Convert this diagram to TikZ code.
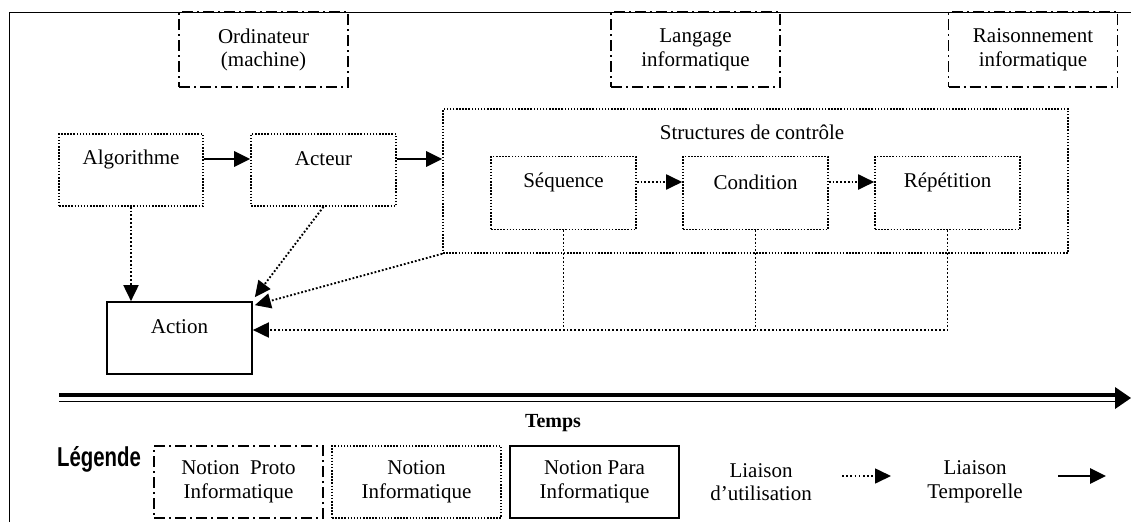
\documentclass[tikz,border=0pt]{standalone}
\usepackage{fontspec}
\setmainfont{Liberation Serif}
\newfontfamily\legfont{Liberation Sans}
\usetikzlibrary{arrows.meta,calc}
\begin{document}
\begin{tikzpicture}[x=1pt,y=-1pt,
  txt/.style={font=\fontsize{21}{23.5}\selectfont, align=center, inner sep=0pt},
  dotb/.style={draw, line width=1.6pt, dash pattern=on 1.5pt off 1.6pt, inner sep=0pt},
  ddot/.style={draw, line width=1.7pt, dash pattern=on 11pt off 4pt on 2pt off 4pt, inner sep=0pt},
  solb/.style={draw, line width=1.7pt, inner sep=0pt},
  bx/.style={minimum width=145pt, minimum height=72pt},
  tbx/.style={minimum width=169pt, minimum height=75pt},
  usearrow/.style={line width=1.9pt, dash pattern=on 1.8pt off 2pt, -{Triangle[length=16pt,width=15pt]}},
  usebus/.style={line width=1.9pt, dash pattern=on 1.8pt off 2pt},
  timearrow/.style={line width=2.8pt, -{Triangle[length=16pt,width=15pt]}}
]
\useasboundingbox (0,0) rectangle (1131,522);
% frame
\draw[line width=1pt] (9,522) -- (9,12) -- (1131,12);

% top proto notions
\node[ddot, tbx] (ord) at (263.5,49.5) {};
\node[txt] (ordt) at (263.5,50) {Ordinateur\\(machine)};
\node[ddot, tbx] (lang) at (695.5,49.5) {};
\node[txt] (langt) at (695.5,50) {Langage\\informatique};
\node[ddot, tbx] (rais) at (1033,49.5) {};
\node[txt] (raist) at (1033,50) {Raisonnement\\informatique};

% main row
\node[dotb, bx, minimum width=144pt] (alg) at (131,170) {};
\node[txt] (algt) at (131,159) {Algorithme};
\node[dotb, bx] (act) at (323.5,170) {};
\node[txt] (actt) at (323.5,159) {Acteur};
\node[dotb, minimum width=625pt, minimum height=144pt] (str) at (755.5,181) {};
\node[txt] (strt) at (752,132) {Structures de contr\^ole};
\node[dotb, bx, minimum height=73pt] (seq) at (563.5,193) {};
\node[txt] (seqt) at (563.5,182) {S\'equence};
\node[dotb, bx, minimum height=73pt] (cond) at (755.5,193) {};
\node[txt] (condt) at (755.5,182) {Condition};
\node[dotb, bx, minimum height=73pt] (rep) at (947.5,193) {};
\node[txt] (rept) at (947.5,182) {R\'ep\'etition};
\node[solb, bx] (action) at (179.5,338) {};
\node[txt] (actiont) at (179.5,327) {Action};

% temporal links
\draw[timearrow] (alg.east |- algt) -- (act.west |- algt);
\draw[timearrow] (act.east |- actt) -- (str.west |- actt);
% use links
\draw[usearrow] (seq.east |- seqt) -- (cond.west |- seqt);
\draw[usearrow] (cond.east |- condt) -- (rep.west |- condt);
\draw[usearrow] (alg.south) -- (alg.south |- action.north);
\draw[usearrow] (act.south) -- ($(action.north east)+(2,-4)$);
\draw[usearrow] (str.south west) -- ($(action.north east)+(2,4)$);
\coordinate (bus) at (0,330);
\draw[usebus] (seq.south) -- (seq.south |- bus);
\draw[usebus] (cond.south) -- (cond.south |- bus);
\draw[usearrow] (rep.south) -- (rep.south |- bus) -- (action.east |- bus);

% time axis
\coordinate (t0) at (59,398);
\coordinate (t1) at (1131,398);
\draw[line width=3.2pt] (59,395) -- (1117,395);
\draw[line width=1.8pt] (59,401.5) -- (1117,401.5);
\fill (t1) -- (1115,387) -- (1115,409) -- cycle;
\node[txt, font=\fontsize{20}{22}\bfseries] (temps) at (553,423) {Temps};

% legend
\node[inner sep=0pt, font=\legfont\bfseries\fontsize{21}{21}\selectfont] (leg) at (99,459) {\scalebox{0.97}[1.3]{L\'egende}};
\node[ddot, tbx, minimum height=72pt] (lg1) at (238.5,482) {};
\node[txt] (lg1t) at (238.5,482) {Notion\ \ Proto\\Informatique};
\node[dotb, tbx, minimum height=72pt] (lg2) at (416.5,482) {};
\node[txt] (lg2t) at (416.5,482) {Notion\\Informatique};
\node[solb, tbx, minimum height=72pt] (lg3) at (594.5,482) {};
\node[txt] (lg3t) at (594.5,482) {Notion Para\\Informatique};
\node[txt] (lg4t) at (761,482) {Liaison\\d’utilisation};
\coordinate (u0) at (842,476);
\coordinate (u1) at (891,476);
\draw[line width=1.6pt, dash pattern=on 1.6pt off 2.6pt, -{Triangle[length=16pt,width=15pt]}] (u0) -- (u1);
\node[txt] (lg5t) at (975,482) {Liaison\\Temporelle};
\coordinate (s0) at (1058,476);
\coordinate (s1) at (1106,476);
\draw[timearrow] (s0) -- (s1);
\end{tikzpicture}
\end{document}
